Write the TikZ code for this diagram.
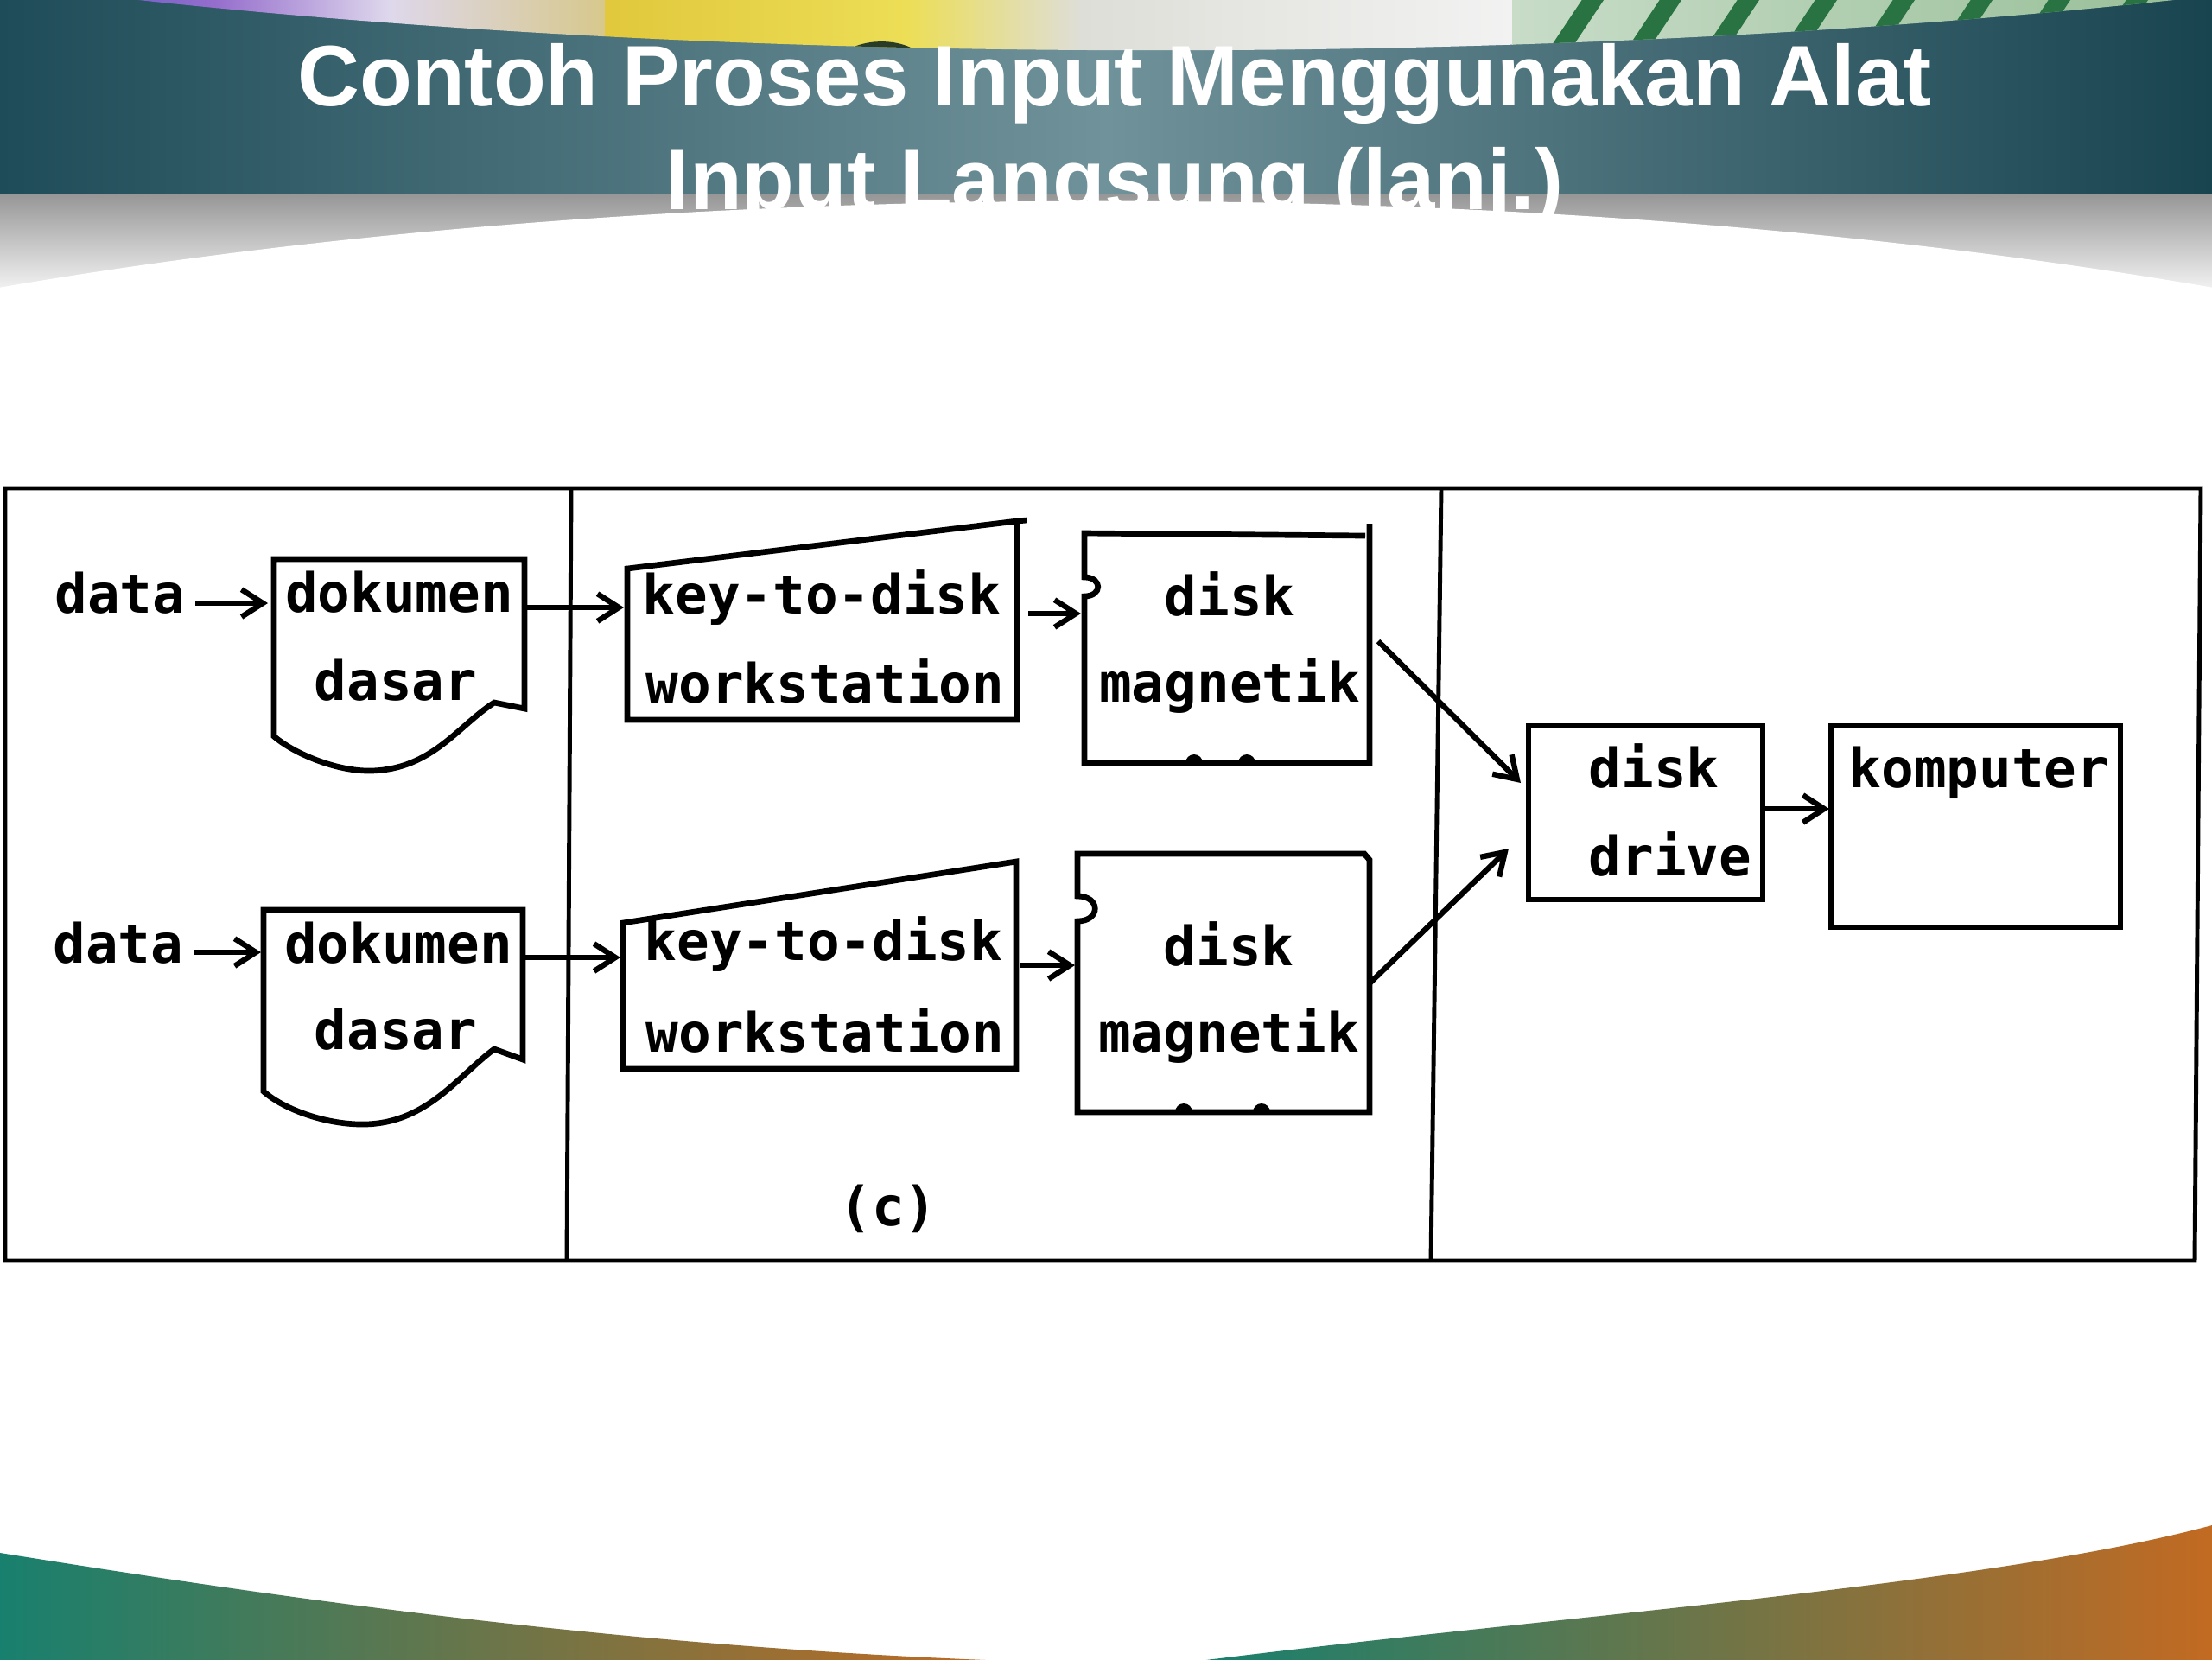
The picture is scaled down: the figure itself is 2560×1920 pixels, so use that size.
\documentclass[tikz,border=0pt]{standalone}
\usepackage{fontspec}
\setmainfont{Liberation Sans}
\newfontfamily\monof{DejaVu Sans Mono}
\usetikzlibrary{arrows.meta}
\definecolor{tealE}{RGB}{30,76,88}
\definecolor{tealC}{RGB}{112,146,154}
\definecolor{tealR}{RGB}{24,68,80}
\definecolor{grayT}{RGB}{150,150,150}
\definecolor{botTeal}{RGB}{24,128,110}
\definecolor{botOrange}{RGB}{194,106,34}
\definecolor{phA}{RGB}{70,80,190}
\definecolor{phB}{RGB}{150,110,205}
\definecolor{phC}{RGB}{222,216,236}
\definecolor{phD}{RGB}{215,200,140}
\definecolor{phE}{RGB}{225,200,60}
\definecolor{phF}{RGB}{236,222,86}
\definecolor{phG}{RGB}{222,222,216}
\definecolor{phH}{RGB}{242,242,242}
\definecolor{phI}{RGB}{200,220,200}
\definecolor{phJ}{RGB}{150,190,150}
\definecolor{phStripe}{RGB}{40,115,65}
\definecolor{phDark}{RGB}{40,60,40}
\tikzset{
  lbl/.style={font=\monof\bfseries\fontsize{17.8}{20}\selectfont, inner sep=0pt, anchor=base},
  ttl/.style={font=\bfseries\fontsize{28.3}{34}\selectfont, text=white, inner sep=0pt, anchor=base},
  shp/.style={line width=1.9pt, line join=miter},
  arr/.style={line width=1.8pt, -{Straight Barb[length=7pt,width=9pt]}},
  frm/.style={line width=1.4pt},
  bump/.style={fill=black}
}
\begin{document}
\begin{tikzpicture}[x=0.01cm,y=-0.01cm]
\useasboundingbox (0,0) rectangle (2560,1920);
\fill[white] (0,0) rectangle (2560,1920);
% ---- title band ----
\shade[left color=tealE, right color=tealR, middle color=tealC] (0,0) rectangle (2560,224);
\shade[top color=grayT, bottom color=white] (0,224) rectangle (2560,350);
\fill[white] (1280,833) ellipse [x radius=23.14cm, y radius=6cm];
% photo strip
\begin{scope}
  \clip (1338,-342) ellipse [x radius=22.65cm, y radius=4cm];
  \shade[left color=phA, right color=phB] (0,-10) rectangle (251,80);
  \shade[left color=phB, right color=phC] (250,-10) rectangle (451,80);
  \shade[left color=phC, right color=phD] (450,-10) rectangle (701,80);
  \shade[left color=phE, right color=phF] (700,-10) rectangle (1051,80);
  \shade[left color=phF, right color=phG] (1050,-10) rectangle (1251,80);
  \shade[left color=phG, right color=phH] (1250,-10) rectangle (1751,80);
  \shade[left color=phI, right color=phJ] (1750,-10) rectangle (2560,80);
  \foreach \sx in {1790,1880,1970,2060,2150,2240,2330,2420}
    \draw[line width=6pt, color=phStripe] (\sx,80) -- (\sx+60,-10);
  \fill[phDark] (960,80) .. controls (975,40) and (1060,35) .. (1080,80) -- cycle;
\end{scope}
% title text
\node[ttl] (t1) at (1290,122) {Contoh Proses Input Menggunakan Alat};
\node[ttl] (t2) at (1290,242) {Input Langsung (lanj.)};
% ---- bottom decoration ----
\shade[left color=botTeal, right color=botOrange] (0,1797) .. controls (300,1845) and (700,1905) .. (1167,1922) -- (0,1922) -- cycle;
\shade[left color=botTeal, right color=botOrange] (1388,1922) .. controls (1800,1870) and (2300,1835) .. (2560,1765) -- (2560,1922) -- cycle;
% ---- frame ----
\draw[frm] (6,565) -- (2547,565) -- (2540,1459) -- (6,1459) -- cycle;
\draw[frm] (661,565) -- (656,1459);
\draw[frm] (1668,565) -- (1656,1459);
% ---- row 1 ----
\coordinate (d1a) at (317,647); \coordinate (d1b) at (607,647);
\coordinate (d1c) at (607,820); \coordinate (d1n) at (572,813);
\coordinate (d1m) at (430,892); \coordinate (d1d) at (317,852);
\draw[shp] (d1a) -- (d1b) -- (d1c) -- (d1n) .. controls (530,840) and (500,890) .. (d1m) .. controls (390,893) and (340,872) .. (d1d) -- cycle;
\coordinate (k1a) at (726,658); \coordinate (k1b) at (1177,603);
\coordinate (k1c) at (1177,833); \coordinate (k1d) at (726,833);
\draw[shp] (k1a) -- (k1b) -- (k1c) -- (k1d) -- cycle;
\draw[shp] (k1b) -- (1188,602);
\coordinate (m1a) at (1255,617); \coordinate (m1b) at (1585,606);
\coordinate (m1c) at (1585,883); \coordinate (m1d) at (1255,883);
\draw[shp] (1580,620) -- (m1a) -- (1255,668) .. controls (1276,668) and (1276,690) .. (1255,690) -- (m1d) -- (m1c) -- (m1b);
\fill[bump] (1372,883) arc[start angle=180, end angle=0, radius=0.1cm] -- cycle;
\fill[bump] (1433,883) arc[start angle=180, end angle=0, radius=0.1cm] -- cycle;
% ---- row 2 ----
\coordinate (d2a) at (305,1053); \coordinate (d2b) at (605,1053);
\coordinate (d2c) at (605,1226); \coordinate (d2n) at (572,1214);
\coordinate (d2m) at (423,1301); \coordinate (d2d) at (305,1263);
\draw[shp] (d2a) -- (d2b) -- (d2c) -- (d2n) .. controls (530,1245) and (495,1299) .. (d2m) .. controls (380,1302) and (330,1285) .. (d2d) -- cycle;
\coordinate (k2a) at (721,1068); \coordinate (k2b) at (1176,997);
\coordinate (k2c) at (1176,1237); \coordinate (k2d) at (721,1237);
\draw[shp] (k2a) -- (k2b) -- (k2c) -- (k2d) -- cycle;
\coordinate (m2a) at (1247,988); \coordinate (m2b) at (1585,995);
\coordinate (m2c) at (1585,1287); \coordinate (m2d) at (1247,1287);
\draw[shp] (m2a) -- (1579,988) -- (m2b) -- (m2c) -- (m2d) -- (1247,1066) .. controls (1274,1066) and (1274,1037) .. (1247,1037) -- cycle;
\fill[bump] (1360,1287) arc[start angle=180, end angle=0, radius=0.1cm] -- cycle;
\fill[bump] (1450,1287) arc[start angle=180, end angle=0, radius=0.1cm] -- cycle;
% ---- right column ----
\draw[shp] (1769,840) rectangle (2040,1041);
\draw[shp] (2119,840) rectangle (2454,1073);
% ---- labels ----
\node[lbl] (data1) at (139,709) {data};
\node[lbl] (dok1) at (462,708) {dokumen};
\node[lbl] (das1) at (458,810) {dasar};
\node[lbl] (key1) at (951,710) {key-to-disk};
\node[lbl] (ws1) at (955,813) {workstation};
\node[lbl] (dsk1) at (1423,712) {disk};
\node[lbl] (mag1) at (1423,812) {magnetik};
\node[lbl] (data2) at (137,1114) {data};
\node[lbl] (dok2) at (461,1114) {dokumen};
\node[lbl] (das2) at (458,1214) {dasar};
\node[lbl] (key2) at (953,1111) {key-to-disk};
\node[lbl] (ws2) at (955,1217) {workstation};
\node[lbl] (dsk2) at (1422,1117) {disk};
\node[lbl] (mag2) at (1422,1217) {magnetik};
\node[lbl, anchor=base west] (dd1) at (1838,911) {disk};
\node[lbl, anchor=base west] (dd2) at (1838,1013) {drive};
\node[lbl, anchor=base west] (komp) at (2139,911) {komputer};
\node[lbl] (cap) at (1028,1418) {(c)};
% ---- connectors ----
\coordinate (a1s) at (226,698); \coordinate (a1e) at (310,698);
\coordinate (b1s) at (607,703); \coordinate (b1e) at (722,703);
\coordinate (c1s) at (1190,710); \coordinate (c1e) at (1251,710);
\coordinate (a2s) at (224,1102); \coordinate (a2e) at (302,1102);
\coordinate (b2s) at (605,1108); \coordinate (b2e) at (718,1108);
\coordinate (c2s) at (1181,1117); \coordinate (c2e) at (1244,1117);
\coordinate (e1s) at (1595,742); \coordinate (e1e) at (1760,906);
\coordinate (e2s) at (1586,1137); \coordinate (e2e) at (1746,982);
\coordinate (f1s) at (2040,936); \coordinate (f1e) at (2117,936);
\draw[arr] (a1s) -- (a1e);
\draw[arr] (b1s) -- (b1e);
\draw[arr] (c1s) -- (c1e);
\draw[arr] (a2s) -- (a2e);
\draw[arr] (b2s) -- (b2e);
\draw[arr] (c2s) -- (c2e);
\draw[arr] (e1s) -- (e1e);
\draw[arr] (e2s) -- (e2e);
\draw[arr] (f1s) -- (f1e);
\end{tikzpicture}
\end{document}
